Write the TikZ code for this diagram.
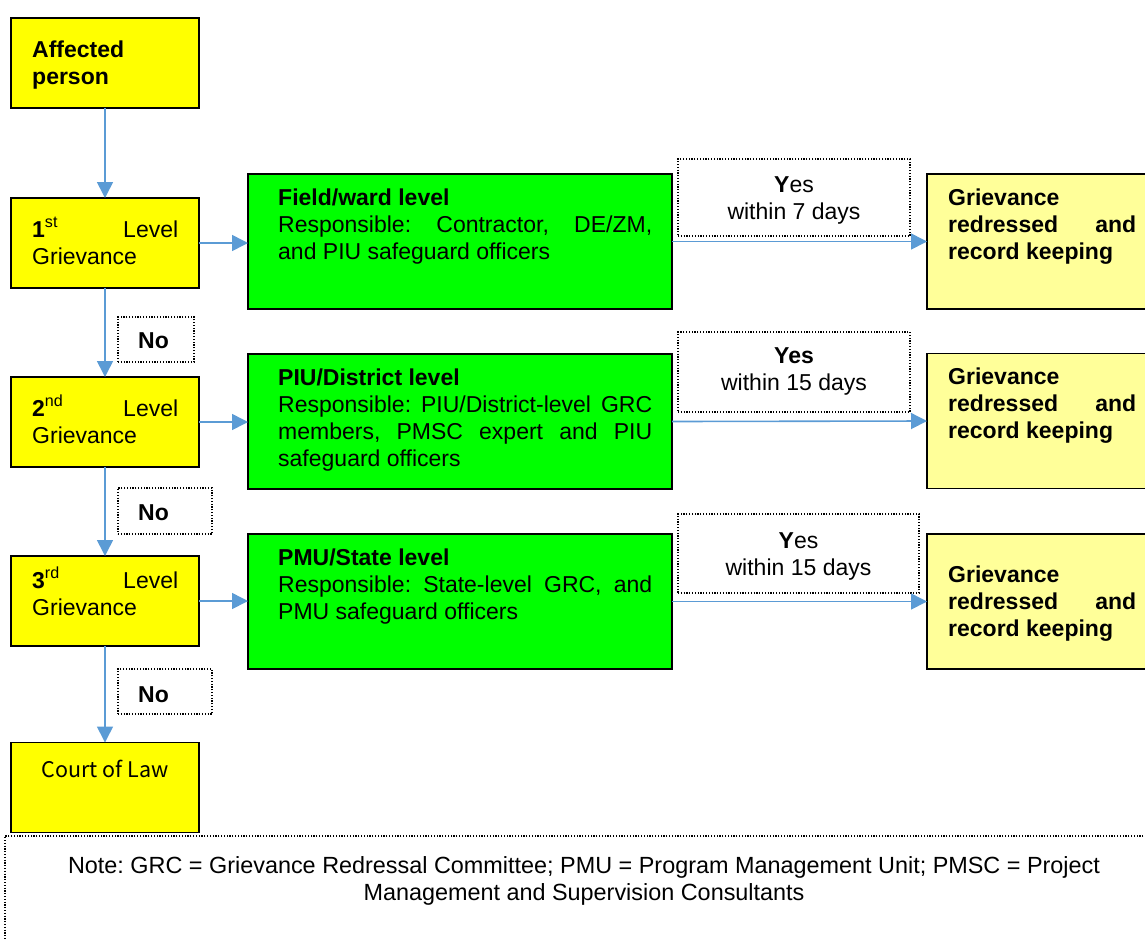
\documentclass[tikz,border=0pt]{standalone}
\usepackage{fontspec}
\setmainfont{Liberation Sans}
\newfontfamily\jpfont{Noto Sans CJK JP}
\usetikzlibrary{arrows.meta,calc}
\frenchspacing
\definecolor{arrowblue}{HTML}{5B9BD5}
\definecolor{boxyellow}{HTML}{FFFF00}
\definecolor{boxgreen}{HTML}{00FF00}
\definecolor{paleyellow}{HTML}{FFFF99}
\tikzset{
  solidbox/.style={draw=black, line width=1.6pt, inner sep=0pt, outer sep=0pt},
  ybox/.style={solidbox, fill=boxyellow, minimum width=188pt, minimum height=90pt},
  gbox/.style={solidbox, fill=boxgreen, minimum width=424pt, minimum height=135pt},
  pbox/.style={solidbox, fill=paleyellow, minimum width=233pt, minimum height=135pt},
  dotbox/.style={draw=black, line width=1.2pt, dash pattern=on 1.2pt off 1.6pt, inner sep=0pt, outer sep=0pt},
  txt/.style={anchor=base west, inner sep=0pt, font=\fontsize{23}{27}\selectfont},
  ctxt/.style={anchor=base, inner sep=0pt, font=\fontsize{23}{27}\selectfont},
  flow/.style={draw=arrowblue, line width=1.6pt, -{Triangle[length=16pt,width=16pt]}},
}
\begin{document}
\begin{tikzpicture}[x=1pt,y=-1pt]
\useasboundingbox (0,0) rectangle (1145,938);
\clip (0,0) rectangle (1145,938);

% left column
\node[ybox] (ap) at (105,63) {};
\node[ybox] (l1) at (105,243) {};
\node[ybox] (l2) at (105,422) {};
\node[ybox] (l3) at (105,601) {};
\node[ybox] (court) at (105,787.5) {};

\node[txt] (tap) at ($(ap.north west)+(21,39)$) {\parbox[t]{146pt}{\textbf{Affected\\person}}};
\node[txt] (tl1) at ($(l1.north west)+(21,39)$) {\parbox[t]{146pt}{\makebox[146pt]{\textbf{1}\textsuperscript{st}\hfill Level}\\Grievance}};
\node[txt] (tl2) at ($(l2.north west)+(21,39)$) {\parbox[t]{146pt}{\makebox[146pt]{\textbf{2}\textsuperscript{nd}\hfill Level}\\Grievance}};
\node[txt] (tl3) at ($(l3.north west)+(21,32)$) {\parbox[t]{146pt}{\makebox[146pt]{\textbf{3}\textsuperscript{rd}\hfill Level}\\Grievance}};
\node[ctxt, font=\jpfont\fontsize{21.5}{27}\selectfont] (tcourt) at ($(court.north)+(0,35)$) {Court of Law};

% No boxes
\node[dotbox, minimum width=76pt, minimum height=45pt] (no1) at (156,339.5) {};
\node[dotbox, minimum width=94pt, minimum height=46pt] (no2) at (165,511) {};
\node[dotbox, minimum width=94pt, minimum height=45pt] (no3) at (165,691.5) {};
\node[txt] (tno1) at ($(no1.north west)+(20,31)$) {\textbf{No}};
\node[txt] (tno2) at ($(no2.north west)+(20,32)$) {\textbf{No}};
\node[txt] (tno3) at ($(no3.north west)+(20,33)$) {\textbf{No}};

% green boxes
\node[gbox] (g1) at (460,241.5) {};
\node[gbox] (g2) at (460,421.5) {};
\node[gbox] (g3) at (460,601.5) {};
\node[txt] (tg1) at ($(g1.north west)+(30,31)$) {\parbox[t]{374pt}{\textbf{Field/ward level}\\\makebox[374pt]{Responsible:\hfill Contractor,\hfill DE/ZM,}\\and PIU safeguard officers}};
\node[txt] (tg2) at ($(g2.north west)+(30,31)$) {\parbox[t]{374pt}{\textbf{PIU/District level}\\\makebox[374pt]{Responsible:\hfill PIU/District-level\hfill GRC}\\\makebox[374pt]{members,\hfill PMSC\hfill expert\hfill and\hfill PIU}\\safeguard officers}};
\node[txt] (tg3) at ($(g3.north west)+(30,31)$) {\parbox[t]{374pt}{\textbf{PMU/State level}\\\makebox[374pt]{Responsible:\hfill State-level\hfill GRC,\hfill and}\\PMU safeguard officers}};

% Yes boxes
\node[dotbox, minimum width=232pt, minimum height=77pt] (y1) at (794,197.5) {};
\node[dotbox, minimum width=232pt, minimum height=80pt] (y2) at (794,372) {};
\node[dotbox, minimum width=241pt, minimum height=79pt] (y3) at (798.5,553.5) {};
\node[ctxt] (ty1) at ($(y1.north)+(0,33)$) {\parbox[t]{230pt}{\centering\textbf{Y}es\\within 7 days}};
\node[ctxt] (ty2) at ($(y2.north)+(0,31)$) {\parbox[t]{230pt}{\centering\textbf{Yes}\\within 15 days}};
\node[ctxt] (ty3) at ($(y3.north)+(0,34)$) {\parbox[t]{238pt}{\centering\textbf{Y}es\\within 15 days}};

% result boxes
\node[pbox] (r1) at (1043.5,241.5) {};
\node[pbox] (r2) at (1043.5,421) {};
\node[pbox] (r3) at (1043.5,601.5) {};
\node[txt] (tr1) at ($(r1.north west)+(21,31)$) {\parbox[t]{188pt}{\bfseries Grievance\\\makebox[188pt]{redressed\hfill and}\\record keeping}};
\node[txt] (tr2) at ($(r2.north west)+(21,31)$) {\parbox[t]{188pt}{\bfseries Grievance\\\makebox[188pt]{redressed\hfill and}\\record keeping}};
\node[txt] (tr3) at ($(r3.north west)+(21,48)$) {\parbox[t]{188pt}{\bfseries Grievance\\\makebox[188pt]{redressed\hfill and}\\record keeping}};

% connectors
\draw[flow] (ap) -- (l1);
\draw[flow] (l1) -- (l2);
\draw[flow] (l2) -- (l3);
\draw[flow] (l3) -- (court);
\draw[flow] (l1.east) -- (l1.east -| g1.west);
\draw[flow] (l2.east) -- (l2.east -| g2.west);
\draw[flow] (l3.east) -- (l3.east -| g3.west);
\draw[flow] (g1.east) -- (r1.west);
\draw[flow] (g2.east) -- (r2.west);
\draw[flow] (g3.east) -- (r3.west);

% note
\node[dotbox, anchor=north west, minimum width=1160pt, minimum height=140pt] (note) at (5,836) {};
\node[ctxt, font=\fontsize{23.4}{27}\selectfont] (tnote) at (584,873) {\parbox[t]{1120pt}{\centering Note: GRC = Grievance Redressal Committee; PMU = Program Management Unit; PMSC = Project\\Management and Supervision Consultants}};
\end{tikzpicture}
\end{document}
